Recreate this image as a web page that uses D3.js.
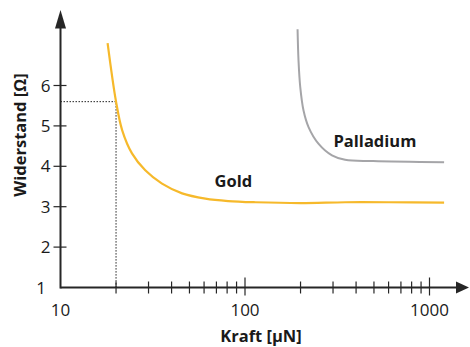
<!DOCTYPE html>
<html>
<head>
<meta charset="utf-8">
<script src="https://cdn.jsdelivr.net/npm/d3@7"></script>
<style>
  body { margin: 0; background: #fff; }
  text { font-family: "Open Sans", "DejaVu Sans", sans-serif; fill: #1a1a1a; }
</style>
</head>
<body>
<div class="chart"></div>
<script>
const WIDTH = 470;
const HEIGHT = 347;

// data
const goldForce = [18, 20, 21.6, 24.4, 28.8, 35.5, 45.6, 61, 81, 114, 200, 350, 600, 1200];
const goldResistance = [7.05, 5.6, 4.89, 4.32, 3.9, 3.57, 3.33, 3.2, 3.14, 3.11, 3.09, 3.11, 3.11, 3.1];
const palladiumForce = [192.7, 195, 199.3, 207.6, 221, 250, 296, 349, 495, 1200];
const palladiumResistance = [7.39, 6.62, 5.96, 5.38, 4.97, 4.56, 4.27, 4.16, 4.13, 4.1];
const xTickValues = [10, 20, 30, 40, 50, 60, 70, 80, 90, 100, 200, 300, 400, 500, 600, 700, 800, 900, 1000];
const xTickLabels = [10, 100, 1000];
const yTickValues = [1, 2, 3, 4, 5, 6];
const markedPoint = {force: 20, resistance: 5.6};

const x = d3.scaleLog().domain([10, 1000]).range([60.5, 429.5]);
const y = d3.scaleLinear().domain([1, 6]).range([287.5, 85.5]);

const svg = d3.select('.chart')
  .append('svg')
  .attr("width", WIDTH)
  .attr("height", HEIGHT);

const axisColor = "#262626";

// dotted guide lines
svg.append("path")
  .attr("d", `M${x(10)},${y(markedPoint.resistance)}H${x(markedPoint.force)}V${y(1)}`)
  .attr("fill", "none")
  .attr("stroke", "#222")
  .attr("stroke-width", 1)
  .attr("stroke-dasharray", "1.5,1.5");

// x axis line + arrow
svg.append("line")
  .attr("x1", x(10)).attr("y1", y(1))
  .attr("x2", 458).attr("y2", y(1))
  .attr("stroke", axisColor).attr("stroke-width", 2);
svg.append("path")
  .attr("d", `M456,${y(1) - 6}L469,${y(1)}L456,${y(1) + 6}Z`)
  .attr("fill", axisColor);

// y axis line + arrow
svg.append("line")
  .attr("x1", x(10)).attr("y1", y(1) + 1)
  .attr("x2", x(10)).attr("y2", 26)
  .attr("stroke", axisColor).attr("stroke-width", 2);
svg.append("path")
  .attr("d", `M${x(10) - 5.5},28.5L${x(10)},10L${x(10) + 5.5},28.5Z`)
  .attr("fill", axisColor);

// x ticks
svg.selectAll("line.xtick")
  .data(xTickValues.filter(d => d > 10))
  .enter()
  .append("line")
  .attr("class", "xtick")
  .attr("x1", d => x(d)).attr("x2", d => x(d))
  .attr("y1", d => xTickLabels.includes(d) ? y(1) - 10 : y(1) - 6)
  .attr("y2", d => xTickLabels.includes(d) ? y(1) + 8 : y(1) + 6)
  .attr("stroke", axisColor).attr("stroke-width", 1.2);

svg.selectAll("text.xlabel")
  .data(xTickLabels)
  .enter()
  .append("text")
  .attr("class", "xlabel")
  .attr("x", d => x(d))
  .attr("y", 316)
  .attr("text-anchor", "middle")
  .attr("font-size", 17)
  .text(d => d);

// y ticks
svg.selectAll("line.ytick")
  .data(yTickValues.filter(d => d > 1))
  .enter()
  .append("line")
  .attr("class", "ytick")
  .attr("x1", x(10) - 7).attr("x2", x(10) + 6)
  .attr("y1", d => y(d)).attr("y2", d => y(d))
  .attr("stroke", axisColor).attr("stroke-width", 1.2);

svg.selectAll("text.ylabel")
  .data(yTickValues)
  .enter()
  .append("text")
  .attr("class", "ylabel")
  .attr("x", d => d === 1 ? 46 : 50.5)
  .attr("y", d => y(d))
  .attr("dy", "0.36em")
  .attr("text-anchor", "end")
  .attr("font-size", 17)
  .text(d => d);

// curves
const line = d3.line()
  .x(d => x(d[0]))
  .y(d => y(d[1]))
  .curve(d3.curveCatmullRom.alpha(0.5));

svg.append("path")
  .datum(d3.zip(goldForce, goldResistance))
  .attr("d", line)
  .attr("fill", "none")
  .attr("stroke", "#F6B92B")
  .attr("stroke-width", 2.2);

svg.append("path")
  .datum(d3.zip(palladiumForce, palladiumResistance))
  .attr("d", line)
  .attr("fill", "none")
  .attr("stroke", "#A5A5A8")
  .attr("stroke-width", 2);

// series labels
svg.append("text")
  .attr("x", 214.5).attr("y", 187)
  .attr("font-size", 16.5).attr("font-weight", "bold")
  .text("Gold");

svg.append("text")
  .attr("x", 333.5).attr("y", 147)
  .attr("font-size", 16.5).attr("font-weight", "bold")
  .text("Palladium");

// axis titles
svg.append("text")
  .attr("x", 261).attr("y", 342)
  .attr("text-anchor", "middle")
  .attr("font-size", 16.5).attr("font-weight", "bold")
  .text("Kraft [µN]");

svg.append("text")
  .attr("transform", "translate(25.5,135) rotate(-90)")
  .attr("text-anchor", "middle")
  .attr("font-size", 16.5).attr("font-weight", "bold")
  .text("Widerstand [Ω]");
</script>
</body>
</html>
